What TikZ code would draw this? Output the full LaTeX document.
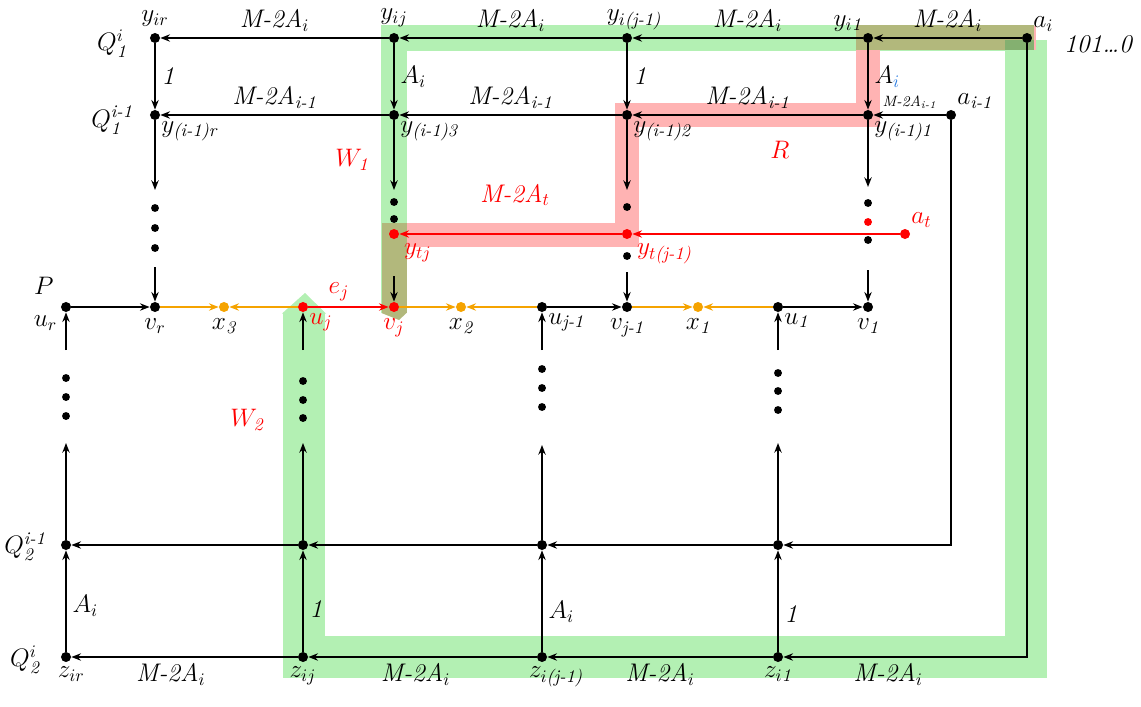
\documentclass[tikz,border=0pt]{standalone}
\usepackage{amsmath,amssymb}
\usepackage{tikz}
\usetikzlibrary{arrows.meta}
\definecolor{hlgreen}{RGB}{179,240,179}
\definecolor{hlred}{RGB}{255,179,179}
\definecolor{hlboth}{RGB}{178,184,124}
\definecolor{hldark}{RGB}{132,176,112}
\definecolor{xorange}{RGB}{245,163,0}
\definecolor{iblue}{RGB}{45,125,225}
\newcommand{\mA}[1]{\textit{M-2A}$_{#1}$}

\begin{document}
\begin{tikzpicture}[x=0.02cm,y=-0.02cm,>={Stealth[length=5.5pt,width=4.2pt,inset=1.8pt]},
  every node/.style={font=\fontsize{14.5}{16}\selectfont},
  dot/.style={circle,fill,inner sep=0pt,minimum size=5.7pt},
  sdot/.style={circle,fill,inner sep=0pt,minimum size=4.5pt},
  link/.style={->,line width=0.8pt},
  olink/.style={->,line width=0.8pt,xorange},
  rlink/.style={->,line width=0.8pt,red}]
\useasboundingbox (0,0) rectangle (1141,706);

% walks W1, W2 and R
\draw[hlgreen,line width=23.8pt] (1026,40) -- (1026,657) -- (304,657) -- (304,313);
\fill[hlgreen] (282,313.5) -- (305,293) -- (326,313.5) -- cycle;
\draw[hlgreen,line width=14.7pt] (394,313) -- (394,38) -- (1034,38);
\draw[hlred,line width=14.2pt] (1036,38) -- (868,38) -- (868,115) -- (627,115) -- (627,235) -- (394,235) -- (394,313);
\fill[hlboth] (855.5,25.5) rectangle (1034,50.5);
\fill[hlboth] (381.5,222.5) rectangle (406.5,313);
\fill[hlboth] (381.5,313) -- (399,320) -- (406.5,313) -- cycle;
\fill[hldark] (1005,40) rectangle (1034,50.5);

% top row
\node[dot,label={above:$y_{ir}$}] (yir) at (155,38) {};
\node[anchor=east] (q1top) at (133,44) {$Q_{\textit{1}}^{i}$};
\node[dot,label={above:$y_{ij}$}] (yij) at (394,38) {};
\node[dot,label={[xshift=4pt,label distance=-2pt]above:$y_{i\textit{(j-1)}}$}] (yij1) at (627,38) {};
\node[dot,label={[label distance=-3pt]above left:$y_{i\textit{1}}$}] (yi1) at (868,38) {};
\node[dot,label={[label distance=-3pt]above right:$a_i$}] (ai) at (1027,38) {};
\node[anchor=west] (code) at (1058,44) {\textit{101\dots0}};

% second row
\node[anchor=east] (q1mid) at (139,120) {$Q_{\textit{1}}^{\textit{i-1}}$};
\node[dot,label={[label distance=-3pt]below right:$y_{\textit{(i-1)r}}$}] (ymr) at (155,115) {};
\node[dot,label={[label distance=-3pt]below right:$y_{\textit{(i-1)3}}$}] (ym3) at (394,115) {};
\node[dot,label={[label distance=-3pt]below right:$y_{\textit{(i-1)2}}$}] (ym2) at (627,115) {};
\node[dot,label={[label distance=-3pt]below right:$y_{\textit{(i-1)1}}$}] (ym1) at (868,115) {};
\node[dot,label={[label distance=-3pt]above right:$a_{\textit{i-1}}$}] (aim) at (951,115) {};

% dots above P
\node[sdot] (e1a) at (155,208) {};
\node[sdot] (e1b) at (155,228) {};
\node[sdot] (e1c) at (155,248) {};
\node[sdot] (e3a) at (394,202) {};
\node[sdot] (e3b) at (394,219) {};
\node[sdot] (e2a) at (627,207) {};
\node[sdot] (e2b) at (627,256) {};
\node[sdot] (e4a) at (868,203) {};
\node[sdot,red] (e4b) at (868,222) {};
\node[sdot] (e4c) at (868,240) {};

% red row
\node[dot,red,label={[red,label distance=0pt]below right:$y_{tj}$}] (ytj) at (394,234) {};
\node[dot,red,label={[red,label distance=0pt]below right:$y_{t\textit{(j-1)}}$}] (ytj1) at (627,234) {};
\node[dot,red,label={[red,label distance=-3pt]above right:$a_t$}] (atn) at (905,234) {};

% path P
\node[dot,label={[label distance=2pt]above left:$P$},label={[label distance=-1pt]below left:$u_r$}] (ur) at (66,307) {};
\node[dot,label={below:$v_r$}] (vr) at (155,307) {};
\node[dot,xorange,label={[black]below:$x_{\textit{3}}$}] (x3) at (224,307) {};
\node[dot,red,label={[red,label distance=-3pt]below right:$u_j$}] (uj) at (303,307) {};
\node[dot,red,label={[red]below:$v_j$}] (vj) at (394,307) {};
\node[dot,xorange,label={[black]below:$x_{\textit{2}}$}] (x2) at (461,307) {};
\node[dot,label={[label distance=-3pt]below right:$u_{\textit{j-1}}$}] (uj1) at (542,307) {};
\node[dot,label={below:$v_{\textit{j-1}}$}] (vj1) at (627,307) {};
\node[dot,xorange,label={[black]below:$x_{\textit{1}}$}] (x1) at (698,307) {};
\node[dot,label={[label distance=-3pt]below right:$u_{\textit{1}}$}] (u1) at (778,307) {};
\node[dot,label={below:$v_{\textit{1}}$}] (v1) at (868,307) {};

% dots below P
\node[sdot] (f1a) at (66,378) {};
\node[sdot] (f1b) at (66,397) {};
\node[sdot] (f1c) at (66,416) {};
\node[sdot] (f2a) at (303,381) {};
\node[sdot] (f2b) at (303,400) {};
\node[sdot] (f2c) at (303,418) {};
\node[sdot] (f3a) at (542,369) {};
\node[sdot] (f3b) at (542,388) {};
\node[sdot] (f3c) at (542,407) {};
\node[sdot] (f4a) at (778,373) {};
\node[sdot] (f4b) at (778,391) {};
\node[sdot] (f4c) at (778,410) {};

% Q2 rows
\node[anchor=east] (q2mid) at (52,547) {$Q_{\textit{2}}^{\textit{i-1}}$};
\node[dot] (q1) at (66,545) {};
\node[dot] (q2) at (303,545) {};
\node[dot] (q3) at (542,545) {};
\node[dot] (q4) at (778,545) {};
\node[anchor=east] (q2bot) at (46,660) {$Q_{\textit{2}}^{i}$};
\node[dot,label={[xshift=3pt,label distance=-1pt]below:$z_{ir}$}] (zir) at (66,657) {};
\node[dot,label={[label distance=-1pt]below:$z_{ij}$}] (zij) at (303,657) {};
\node[dot,label={[xshift=8pt,label distance=-1pt]below:$z_{i\textit{(j-1)}}$}] (zij1) at (542,657) {};
\node[dot,label={[label distance=-1pt]below:$z_{i\textit{1}}$}] (zi1) at (778,657) {};

% names of the walks
\node[red] (lW1) at (352,160) {$W_{\textit{1}}$};
\node[red] (lW2) at (247,420) {$W_{\textit{2}}$};
\node[red] (lR) at (780,150) {$R$};
\node[red] (lMt) at (515,195) {\mA{t}};

% edges of Q1
\draw[link] (ai) -- (yi1) node[midway,above] {\mA{i}};
\draw[link] (yi1) -- (yij1) node[midway,above] {\mA{i}};
\draw[link] (yij1) -- (yij) node[midway,above] {\mA{i}};
\draw[link] (yij) -- (yir) node[midway,above] {\mA{i}};
\draw[link] (yir) -- (ymr) node[midway,right] {\textit{1}};
\draw[link] (yij) -- (ym3) node[midway,right] {$A_i$};
\draw[link] (yij1) -- (ym2) node[midway,right] {\textit{1}};
\draw[link] (yi1) -- (ym1) node[midway,right] {$A_{\textcolor{iblue}{i}}$};
\draw[link] (aim) -- (ym1) node[midway,above,font=\fontsize{8.5}{9}\selectfont] {\mA{\textit{i-1}}};
\draw[link] (ym1) -- (ym2) node[midway,above] {\mA{\textit{i-1}}};
\draw[link] (ym2) -- (ym3) node[midway,above] {\mA{\textit{i-1}}};
\draw[link] (ym3) -- (ymr) node[midway,above] {\mA{\textit{i-1}}};

% down to P
\coordinate (t1) at (155,190);
\coordinate (s1) at (155,267);
\coordinate (t3) at (394,190);
\coordinate (s3) at (394,276);
\coordinate (t2) at (627,190);
\coordinate (s2) at (627,272);
\coordinate (t4) at (868,187);
\coordinate (s4) at (868,270);
\draw[link] (ymr) -- (t1);
\draw[link] (s1) -- (vr);
\draw[link] (ym3) -- (t3);
\draw[link] (s3) -- (vj);
\draw[link] (ym2) -- (t2);
\draw[link] (s2) -- (vj1);
\draw[link] (ym1) -- (t4);
\draw[link] (s4) -- (v1);
\draw[rlink] (atn) -- (ytj1);
\draw[rlink] (ytj1) -- (ytj);

% edges of P
\draw[link] (ur) -- (vr);
\draw[olink] (vr) -- (x3);
\draw[olink] (uj) -- (x3);
\draw[rlink] (uj) -- (vj) node[pos=0.38,above,red] {$e_j$};
\draw[olink] (vj) -- (x2);
\draw[olink] (uj1) -- (x2);
\draw[link] (uj1) -- (vj1);
\draw[olink] (vj1) -- (x1);
\draw[olink] (u1) -- (x1);
\draw[link] (u1) -- (v1);

% up to P
\coordinate (g1) at (66,350);
\coordinate (h1) at (66,443);
\coordinate (g2) at (303,350);
\coordinate (h2) at (303,443);
\coordinate (g3) at (542,350);
\coordinate (h3) at (542,445);
\coordinate (g4) at (778,350);
\coordinate (h4) at (778,443);
\draw[link] (g1) -- (ur);
\draw[link] (q1) -- (h1);
\draw[link] (g2) -- (uj);
\draw[link] (q2) -- (h2);
\draw[link] (g3) -- (uj1);
\draw[link] (q3) -- (h3);
\draw[link] (g4) -- (u1);
\draw[link] (q4) -- (h4);

% edges of Q2
\draw[link] (aim) |- (q4);
\draw[link] (q4) -- (q3);
\draw[link] (q3) -- (q2);
\draw[link] (q2) -- (q1);
\draw[link] (ai) |- (zi1) node[pos=0.785,below] {\mA{i}};
\draw[link] (zi1) -- (zij1) node[midway,below] {\mA{i}};
\draw[link] (zij1) -- (zij) node[pos=0.53,below] {\mA{i}};
\draw[link] (zij) -- (zir) node[pos=0.56,below] {\mA{i}};
\draw[link] (zir) -- (q1) node[pos=0.45,right] {$A_i$};
\draw[link] (zij) -- (q2) node[pos=0.42,right] {\textit{1}};
\draw[link] (zij1) -- (q3) node[pos=0.39,right] {$A_i$};
\draw[link] (zi1) -- (q4) node[pos=0.37,right] {\textit{1}};
\end{tikzpicture}
\end{document}
